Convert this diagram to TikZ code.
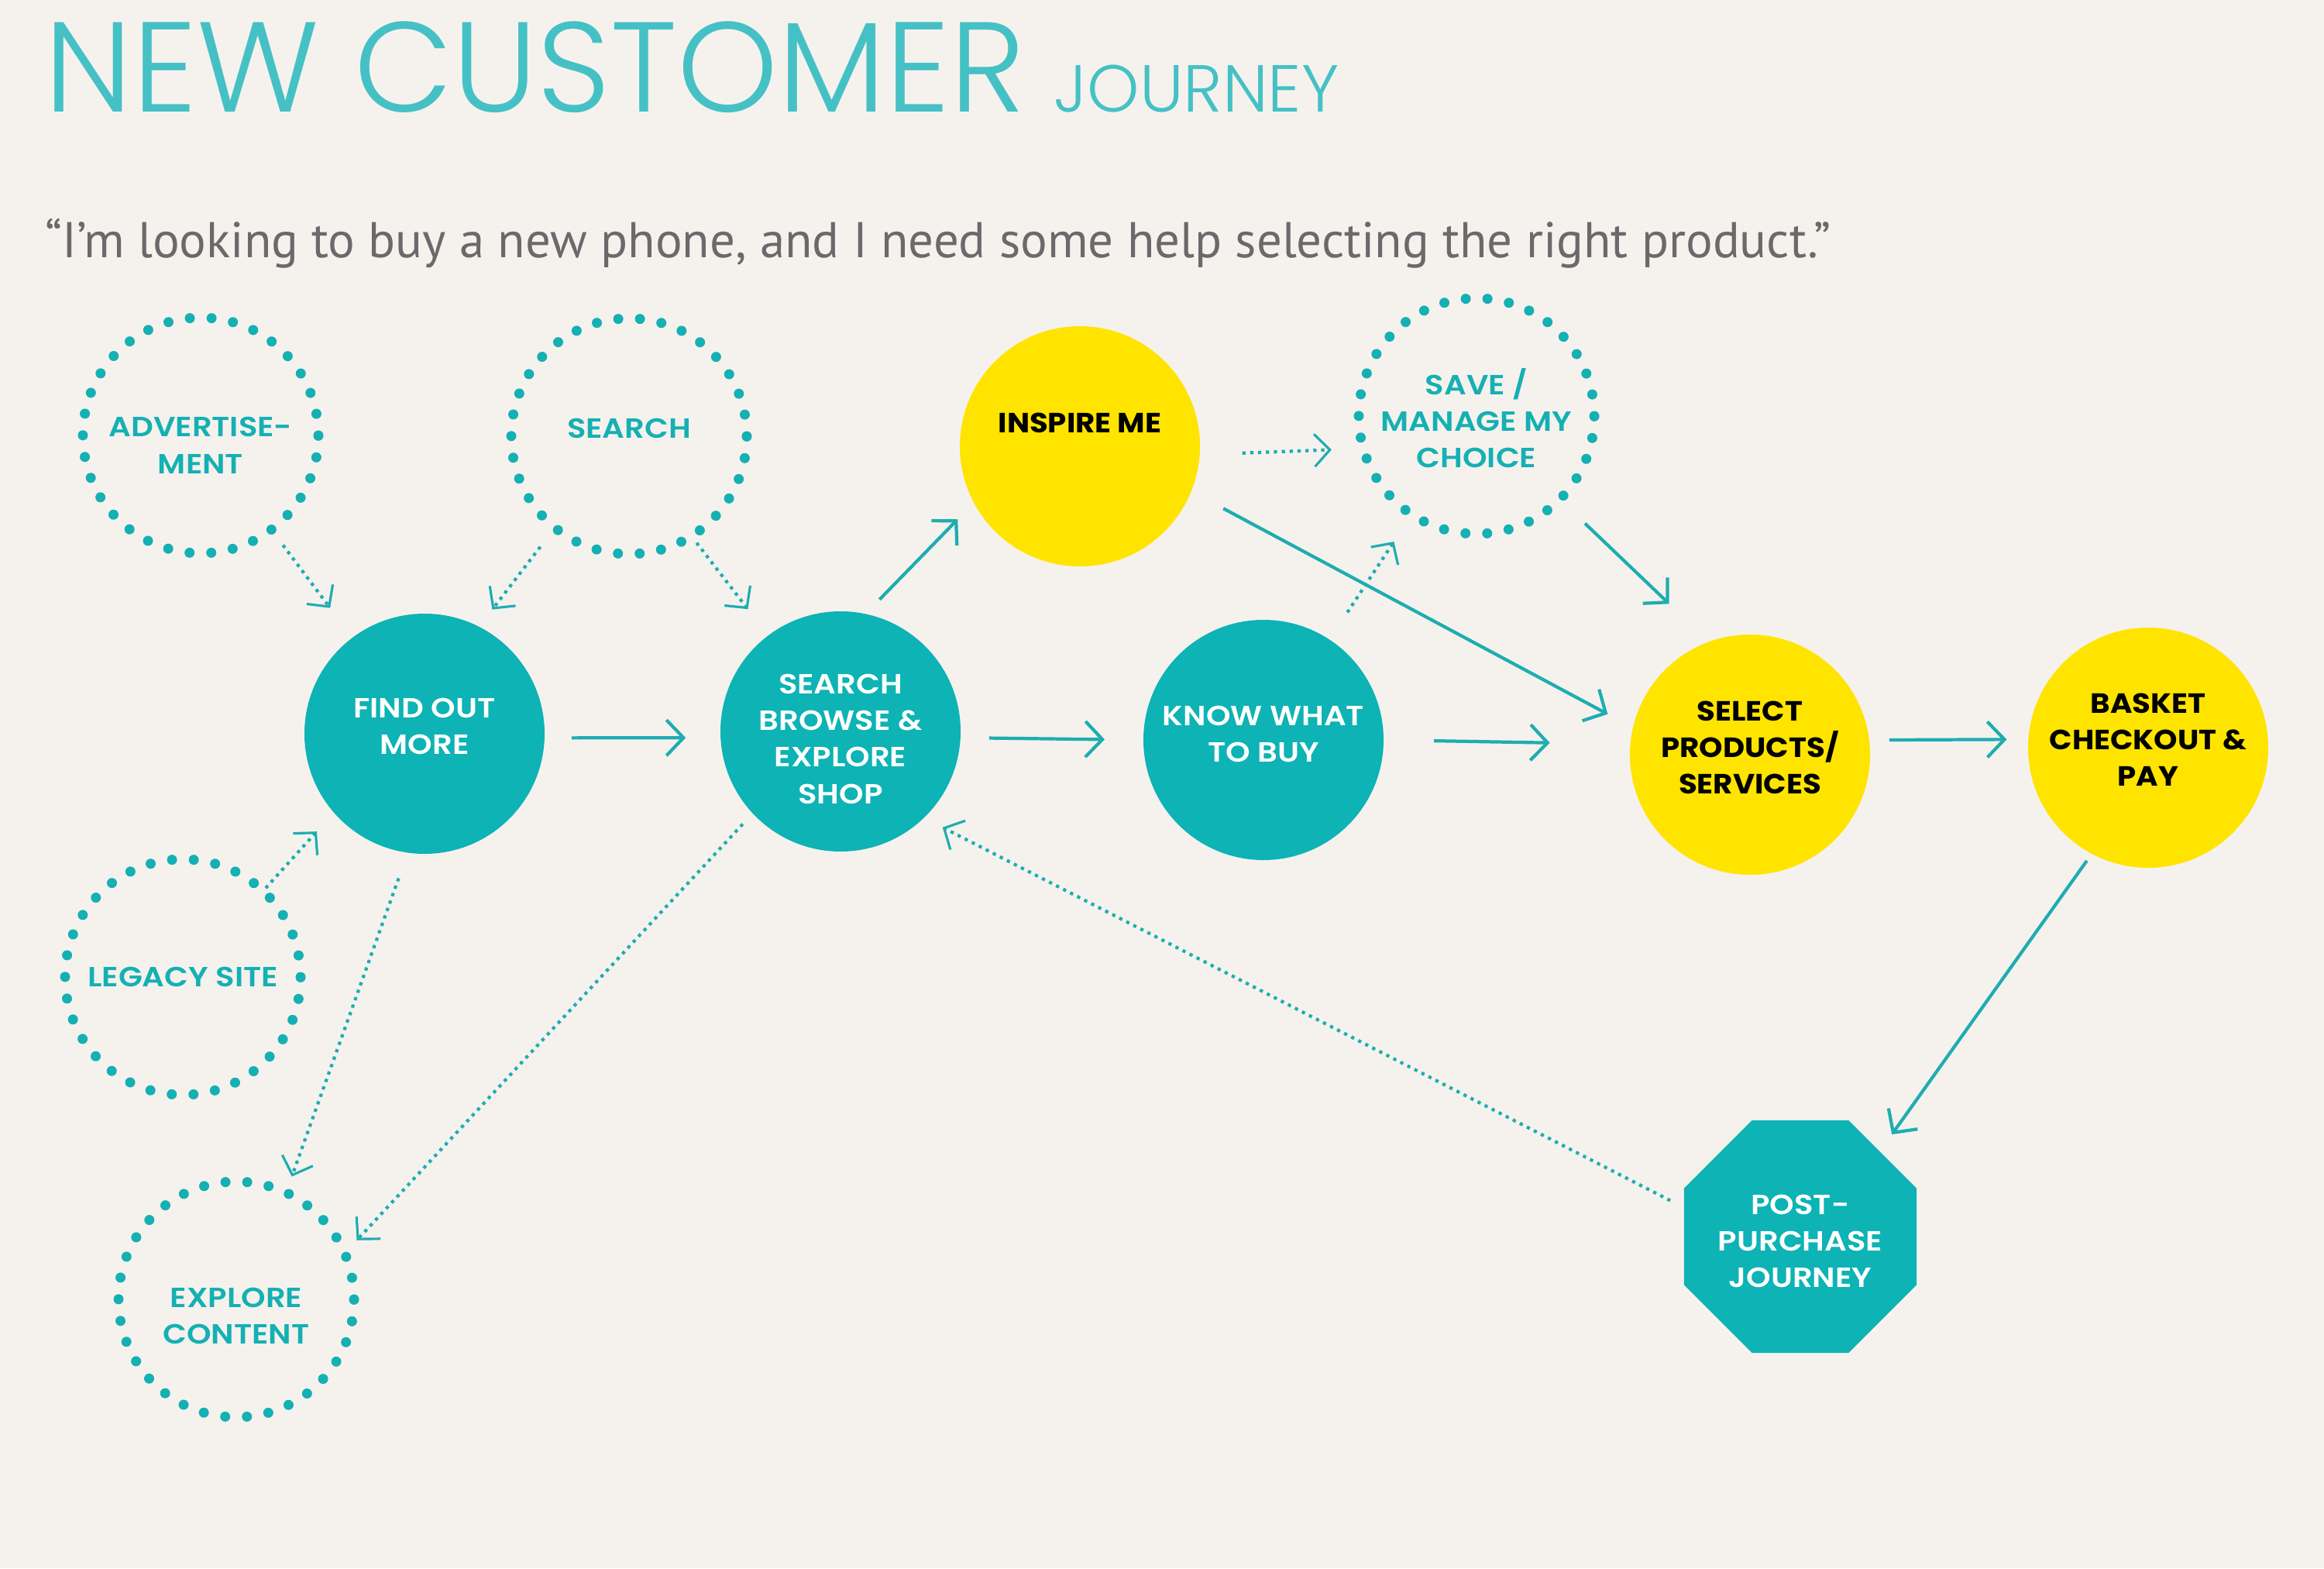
\documentclass[tikz,border=0pt]{standalone}
\usepackage{fontspec}
\usepackage{tikz}
\usetikzlibrary{arrows.meta,shapes.geometric}
\newfontfamily\titlefont{Poppins Light}
\newfontfamily\stagefont{Poppins SemiBold}[FakeStretch=1.12]
\newfontfamily\boldstagefont{Poppins Bold}[FakeStretch=1.08]
\newfontfamily\quotefont{PT Sans}
\definecolor{paper}{HTML}{F5F2EE}
\definecolor{stageteal}{HTML}{0DB3B5}
\definecolor{dotteal}{HTML}{15B0B3}
\definecolor{lineteal}{HTML}{1EADB0}
\definecolor{titleteal}{HTML}{45C1C5}
\definecolor{stageyellow}{HTML}{FFE400}
\definecolor{quotegrey}{HTML}{6A6A6C}
% invisible struts that nudge a label down (padtop) or up (padbottom) in its circle
\newcommand{\padtop}[1]{\rule{0pt}{#1}}
\newcommand{\padbottom}[1]{\rule[-#1]{0pt}{#1}}
\tikzset{
    stage/.style = {circle, minimum size=3.1cm, inner sep=0pt, outer sep=0pt, align=center, font=\stagefont\fontsize{10.2pt}{13.4pt}\selectfont},
    teal-stage/.style = {stage, fill=stageteal, text=white},
    yellow-stage/.style = {stage, fill=stageyellow, text=black, font=\boldstagefont\fontsize{10.2pt}{13.4pt}\selectfont},
    dotted-stage/.style = {stage, minimum size=3.04cm, draw=dotteal, text=dotteal, line width=3.7pt, line cap=round, dash pattern=on 0pt off 7.99pt},
    octagon-stage/.style = {regular polygon, regular polygon sides=8, minimum size=3.25cm, inner sep=0pt, outer sep=0pt, fill=stageteal, text=white, align=center, font=\stagefont\fontsize{10.2pt}{13.4pt}\selectfont},
    flow-arrow/.style = {draw=lineteal, line width=1.2pt, -{Straight Barb[length=0.22cm, width=0.46cm]}},
    hint-arrow/.style = {draw=lineteal, line width=1.2pt, dash pattern=on 1.2pt off 1.7pt, -{Straight Barb[length=0.2cm, width=0.42cm, line width=0.9pt]}},
}

\begin{document}
\begin{tikzpicture}
\useasboundingbox (0,0) rectangle (30,-20.24);
\fill[paper] (0,0) rectangle (30,-20.24);

% heading
\node[anchor=base west, inner sep=0pt, text=titleteal, font=\titlefont\fontsize{47pt}{47pt}\selectfont] (title) at (0.57,-1.45) {NEW CUSTOMER};
\node[anchor=base west, inner sep=0pt, text=titleteal, font=\titlefont\fontsize{24.4pt}{24.4pt}\selectfont] (journey) at (13.6,-1.45) {JOURNEY};
\node[anchor=base west, inner sep=0pt, text=quotegrey, font=\quotefont\fontsize{18.45pt}{18.45pt}\selectfont] (quote) at (0.58,-3.32) {“I’m looking to buy a new phone, and I need some help selecting the right product.”};

% entry points
\node[dotted-stage] (advert) at (2.59,-5.62) {\padtop{0.51cm}ADVERTISE-\\MENT};
\node[dotted-stage] (search) at (8.12,-5.63) {SEARCH\padbottom{0.2cm}};
\node[dotted-stage] (legacy) at (2.36,-12.61) {LEGACY SITE};
\node[dotted-stage] (explore) at (3.05,-16.77) {\padtop{0.69cm}EXPLORE\\CONTENT};
\node[dotted-stage] (save) at (19.06,-5.37) {\padtop{0.39cm}SAVE /\\MANAGE MY\\CHOICE};

% main journey
\node[teal-stage] (findout) at (5.48,-9.47) {FIND OUT\\MORE\padbottom{0.2cm}};
\node[teal-stage] (browse) at (10.85,-9.44) {\padtop{0.45cm}SEARCH\\BROWSE \&\\EXPLORE\\SHOP};
\node[teal-stage] (know) at (16.31,-9.55) {KNOW WHAT\\TO BUY\padbottom{0.16cm}};
\node[yellow-stage] (inspire) at (13.94,-5.76) {\raisebox{0.6cm}{INSPIRE ME}};
\node[yellow-stage] (select) at (22.59,-9.74) {SELECT\\PRODUCTS/\\SERVICES\padbottom{0.18cm}};
\node[yellow-stage] (basket) at (27.73,-9.65) {BASKET\\CHECKOUT \&\\PAY\padbottom{0.2cm}};
\node[octagon-stage] (post) at (23.24,-15.96) {\padtop{0.37cm}POST-\\PURCHASE\\JOURNEY};

% solid steps
\draw[flow-arrow, shorten <=0.35cm, shorten >=0.45cm] (findout.-2) -- (browse.183);
\draw[flow-arrow, shorten <=0.37cm, shorten >=0.50cm] (browse.-3) -- (know.180);
\draw[flow-arrow, shorten <=0.65cm, shorten >=1.04cm] (know.0) -- (select.175);
\draw[flow-arrow, shorten <=0.26cm, shorten >=0.28cm] (select.7) -- (basket.176);
\draw[flow-arrow, shorten <=0.26cm, shorten >=0.30cm] (browse.78) -- (inspire.208);
\draw[flow-arrow, shorten <=0.47cm, shorten >=0.37cm] (inspire.-22) -- (select.167);
\draw[flow-arrow, shorten <=0.45cm, shorten >=0.71cm] (save.-45) -- (select.110);
\draw[flow-arrow, shorten <=0.11cm, shorten >=0.27cm] (basket.242) -- (post.47);

% dotted hints
\draw[hint-arrow, shorten <=0.25cm, shorten >=0.48cm] (advert) -- (findout);
\draw[hint-arrow, shorten <=0.31cm, shorten >=0.28cm] (search.231) -- (findout.63);
\draw[hint-arrow, shorten <=0.11cm, shorten >=0.43cm] (search.-58) -- (browse.127);
\draw[hint-arrow, shorten <=0.05cm, shorten >=0.33cm] (legacy.47) -- (findout.221);
\draw[hint-arrow, shorten <=0.35cm, shorten >=0.22cm] (findout.262) -- (explore.65);
\draw[hint-arrow, shorten <=0.19cm, shorten >=0.23cm] (browse.223) -- (explore.23);
\draw[hint-arrow, shorten <=0.55cm, shorten >=0.41cm] (inspire.-4) -- (save.196);
\draw[hint-arrow, shorten <=0.42cm, shorten >=0.42cm] (know) -- (save);
\draw[hint-arrow, shorten <=0.20cm, shorten >=0.27cm] (post.166) -- (browse.-46);
\end{tikzpicture}
\end{document}
